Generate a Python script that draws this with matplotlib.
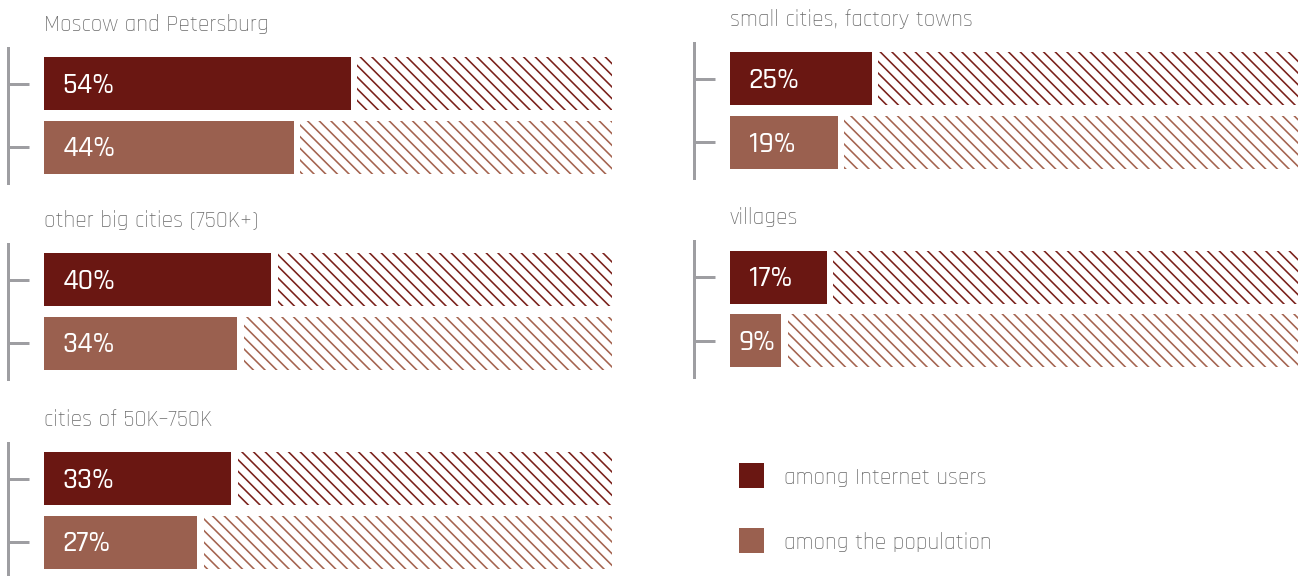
import matplotlib
matplotlib.use("Agg")
import matplotlib.pyplot as plt
from matplotlib.patches import Patch

# Share of each settlement type, percent
regions = [
    "Moscow and Petersburg",
    "other big cities (750K+)",
    "cities of 50K–750K",
    "small cities, factory towns",
    "villages",
]
internet_users = [54, 40, 33, 25, 17]
population = [44, 34, 27, 19, 9]
legend_labels = ["among Internet users", "among the population"]

W, H, DPI = 1305, 577, 140
PT = 72 / DPI  # points per pixel

dark = "#6a1712"
light = "#9a604f"
hatch_dark = "#7a201a"
hatch_light = "#a4634f"
grey_line = "#9e9ea2"
grey_text = "#6a6a6a"
FONT = "Rajdhani"

plt.rcParams["hatch.linewidth"] = 1.6 * PT
HATCH = chr(92) * 4  # back-slashes: dense diagonal lines

fig = plt.figure(figsize=(W / DPI, H / DPI), dpi=DPI)
fig.patch.set_facecolor("white")

# panel placement: (left edge of bars, centre of first bar) in pixels
slots = [(44, 84.5), (44, 280.5), (44, 479.5), (730, 79.5), (730, 278)]
row_px = 63.5
bar_px = 53
margin_px = 36
bar_w_px = 568

title_em = 23.4
title_fs = title_em * PT
value_fs = 30 * PT
gap = 6.5 / bar_w_px * 100

for name, u, p, (lx, cy) in zip(regions, internet_users, population, slots):
    top = cy - margin_px
    h = 2 * margin_px + row_px
    ax = fig.add_axes([lx / W, 1 - (top + h) / H, bar_w_px / W, h / H])
    ax.set_xlim(0, 100)
    ax.set_ylim(1 + margin_px / row_px, -margin_px / row_px)
    bh = bar_px / row_px

    vals = [u, p]
    fills = [dark, light]
    hatches = [hatch_dark, hatch_light]
    for i, (v, fc, hc) in enumerate(zip(vals, fills, hatches)):
        ax.barh(i, v, height=bh, color=fc, linewidth=0)
        ax.barh(i, 100 - v - gap, left=v + gap, height=bh, facecolor="none",
                edgecolor=hc, hatch=HATCH, linewidth=0)
        if v < 12:
            ax.text(v / 2 + 0.3, i, f"{v}%", color="white", fontsize=value_fs,
                    family=FONT, fontweight=500, ha="center", va="center")
        else:
            ax.text(3.3, i, f"{v}%", color="white", fontsize=value_fs,
                    family=FONT, fontweight=500, ha="left", va="center")

    ax.set_title(name, loc="left", pad=9, fontsize=title_fs, color=grey_text,
                 family=FONT, fontweight=300)

    for s in ("top", "right", "bottom"):
        ax.spines[s].set_visible(False)
    ax.spines["left"].set_position(("outward", margin_px * PT))
    ax.spines["left"].set_color(grey_line)
    ax.spines["left"].set_linewidth(3 * PT)
    ax.set_yticks([0, 1])
    ax.tick_params(axis="y", direction="in", length=21 * PT, width=3 * PT,
                   color=grey_line, labelleft=False)
    ax.set_xticks([])
    ax.patch.set_alpha(0)

handles = [Patch(facecolor=dark, linewidth=0), Patch(facecolor=light, linewidth=0)]
leg_em = title_em
sq = 25 / leg_em
hh = (sq - 0.245) / 0.65
fig.legend(handles, legend_labels, loc="upper left",
           bbox_to_anchor=(739 / W, 1 - 464 / H), frameon=False,
           prop={"family": FONT, "weight": 300, "size": leg_em * PT},
           labelcolor=grey_text, handlelength=sq, handleheight=hh,
           handletextpad=20 / leg_em, labelspacing=40 / leg_em, borderpad=0,
           borderaxespad=0)

fig.savefig("out.png", dpi=DPI, facecolor="white")
